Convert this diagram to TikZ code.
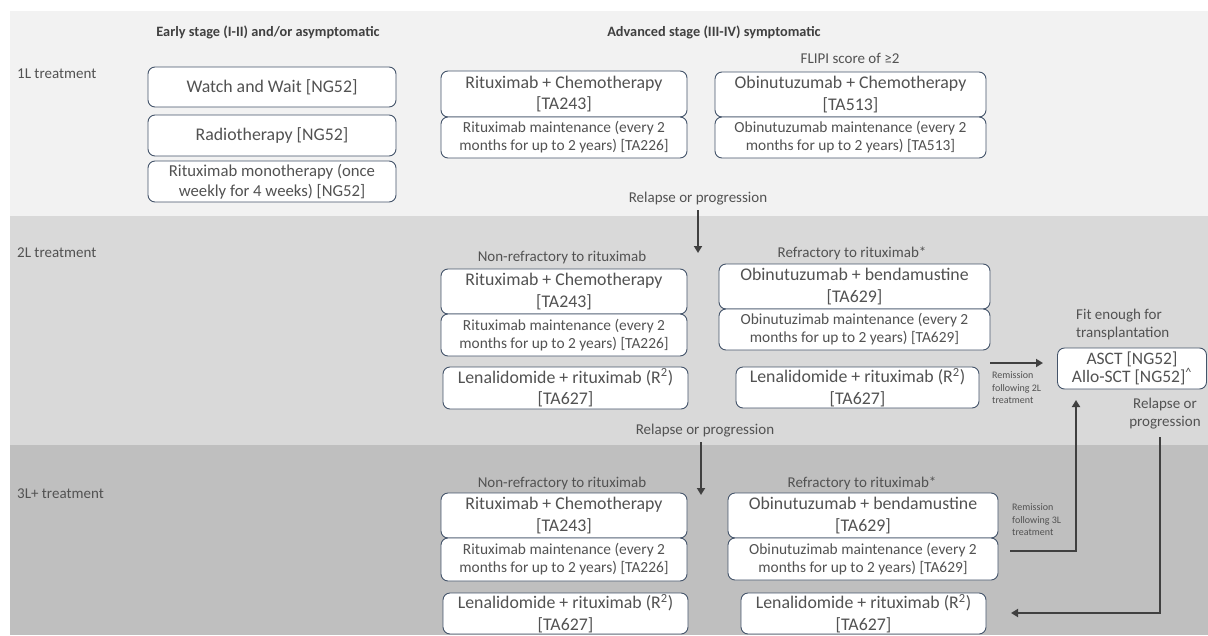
\documentclass[tikz,border=0pt]{standalone}
\usepackage{fontspec}
\setmainfont{Carlito}
\usetikzlibrary{arrows.meta}
\definecolor{bandA}{HTML}{F2F2F2}
\definecolor{bandB}{HTML}{D9D9D9}
\definecolor{bandC}{HTML}{BFBFBF}
\definecolor{boxc}{HTML}{44546A}
\definecolor{txt}{HTML}{525252}
\definecolor{hdr}{HTML}{404040}
\definecolor{arr}{HTML}{404040}
\begin{document}
\begin{tikzpicture}[x=1pt,y=-1pt,
  tbox/.style={draw=boxc, fill=white, line width=0.9pt, rounded corners=7pt, align=center, inner sep=0pt, text=txt, font=\fontsize{17.8}{21.5}\selectfont},
  mbox/.style={tbox, font=\fontsize{15.4}{18}\selectfont},
  lbl/.style={text=txt, font=\fontsize{15}{18}\selectfont, inner sep=0pt, align=center},
  hd/.style={text=hdr, font=\bfseries\fontsize{14.3}{17}\selectfont, inner sep=0pt},
  small/.style={text=txt, font=\fontsize{10}{12.5}\selectfont, inner sep=0pt, align=left},
  flow/.style={draw=arr, line width=2pt, -{Triangle[length=7pt,width=8pt]}},
]
\useasboundingbox (0,0) rectangle (1208,635);
% bands
\fill[bandA] (10,11) rectangle (1208,216);
\fill[bandB] (10,216) rectangle (1208,445);
\fill[bandC] (10,445) rectangle (1208,635);

% headers
\node[hd] (h1) at (268,32) {Early stage (I-II) and/or asymptomatic};
\node[hd] (h2) at (714,32) {Advanced stage (III-IV) symptomatic};
\node[lbl, anchor=west] (l1) at (17,74) {1L treatment};
\node[lbl, anchor=west] (l2) at (17,253) {2L treatment};
\node[lbl, anchor=west] (l3) at (17,494) {3L+ treatment};

% 1L early
\node[tbox, minimum width=248pt, minimum height=40pt] (ww) at (272,87) {Watch and Wait [NG52]};
\node[tbox, minimum width=248pt, minimum height=41pt] (rt) at (272,135.5) {Radiotherapy [NG52]};
\node[tbox, minimum width=248pt, minimum height=41pt, font=\fontsize{16.7}{20}\selectfont] (rm) at (272,181.5) {Rituximab monotherapy (once\\weekly for 4 weeks) [NG52]};

% 1L advanced
\node[lbl] (flipi) at (850,58) {FLIPI score of ≥2};
\node[tbox, minimum width=246pt, minimum height=46pt] (rc1) at (564,94) {Rituximab + Chemotherapy\\{[TA243]}};
\node[mbox, minimum width=246pt, minimum height=41pt] (rmt1) at (564,137.5) {Rituximab maintenance (every 2\\months for up to 2 years) [TA226]};
\node[tbox, minimum width=271pt, minimum height=45pt] (oc1) at (850.5,94.5) {Obinutuzumab + Chemotherapy\\{[TA513]}};
\node[mbox, minimum width=271pt, minimum height=41pt] (omt1) at (850.5,137.5) {Obinutuzumab maintenance (every 2\\months for up to 2 years) [TA513]};
\node[lbl] (rel1) at (698,199) {Relapse or progression};

% 2L
\node[lbl] (nr2) at (562,257) {Non-refractory to rituximab};
\node[lbl] (rf2) at (852,253) {Refractory to rituximab*};
\node[tbox, minimum width=246pt, minimum height=45pt] (rc2) at (564,291.5) {Rituximab + Chemotherapy\\{[TA243]}};
\node[mbox, minimum width=246pt, minimum height=42pt] (rmt2) at (564,335) {Rituximab maintenance (every 2\\months for up to 2 years) [TA226]};
\node[tbox, minimum width=245pt, minimum height=42pt] (len2l) at (565.5,388) {Lenalidomide + rituximab (R\textsuperscript{2})\\{[TA627]}};
\node[tbox, minimum width=271pt, minimum height=45pt] (ob2) at (854.5,286.5) {Obinutuzumab + bendamustine\\{[TA629]}};
\node[mbox, minimum width=271pt, minimum height=41pt] (omt2) at (854.5,329.5) {Obinutuzimab maintenance (every 2\\months for up to 2 years) [TA629]};
\node[tbox, minimum width=243pt, minimum height=41pt] (len2r) at (857.5,387.5) {Lenalidomide + rituximab (R\textsuperscript{2})\\{[TA627]}};
\node[small, anchor=west] (rem2) at (992,388) {Remission\\following 2L\\treatment};

% transplant
\node[lbl, anchor=west, align=left] (fit) at (1076,324) {Fit enough for\\transplantation};
\node[tbox, minimum width=149pt, minimum height=41pt, font=\fontsize{17.5}{14.5}\selectfont] (asct) at (1132,368.5) {ASCT [NG52]\\Allo-SCT [NG52]\textsuperscript{\textasciicircum}};
\node[lbl] (relR) at (1165,414) {Relapse or\\progression};
\node[lbl] (rel2) at (705,431) {Relapse or progression};

% 3L
\node[lbl] (nr3) at (562,483) {Non-refractory to rituximab};
\node[lbl] (rf3) at (862,483) {Refractory to rituximab*};
\node[tbox, minimum width=246pt, minimum height=45pt] (rc3) at (564,515.5) {Rituximab + Chemotherapy\\{[TA243]}};
\node[mbox, minimum width=246pt, minimum height=43pt] (rmt3) at (564,559.5) {Rituximab maintenance (every 2\\months for up to 2 years) [TA226]};
\node[tbox, minimum width=245pt, minimum height=41pt] (len3l) at (565.5,613.5) {Lenalidomide + rituximab (R\textsuperscript{2})\\{[TA627]}};
\node[tbox, minimum width=270pt, minimum height=45pt] (ob3) at (863,515.5) {Obinutuzumab + bendamustine\\{[TA629]}};
\node[mbox, minimum width=270pt, minimum height=42pt] (omt3) at (863,559) {Obinutuzimab maintenance (every 2\\months for up to 2 years) [TA629]};
\node[tbox, minimum width=245pt, minimum height=41pt] (len3r) at (863.5,613.5) {Lenalidomide + rituximab (R\textsuperscript{2})\\{[TA627]}};
\node[small, anchor=west] (rem3) at (1012,520) {Remission\\following 3L\\treatment};

% connectors
\coordinate (a1s) at (698,210);
\coordinate (a1e) at (698,253);
\draw[flow] (a1s) -- (a1e);
\coordinate (a2s) at (701,442);
\coordinate (a2e) at (701,495);
\draw[flow] (a2s) -- (a2e);
\coordinate (r2s) at (990,363);
\coordinate (r2e) at (1043,363);
\draw[flow] (r2s) -- (r2e);
\coordinate (r3s) at (1010,551);
\coordinate (r3e) at (1076,400);
\draw[flow] (r3s) -| (r3e);
\coordinate (rrs) at (1160,437);
\coordinate (rre) at (1011,613);
\draw[flow] (rrs) |- (rre);
\end{tikzpicture}
\end{document}
